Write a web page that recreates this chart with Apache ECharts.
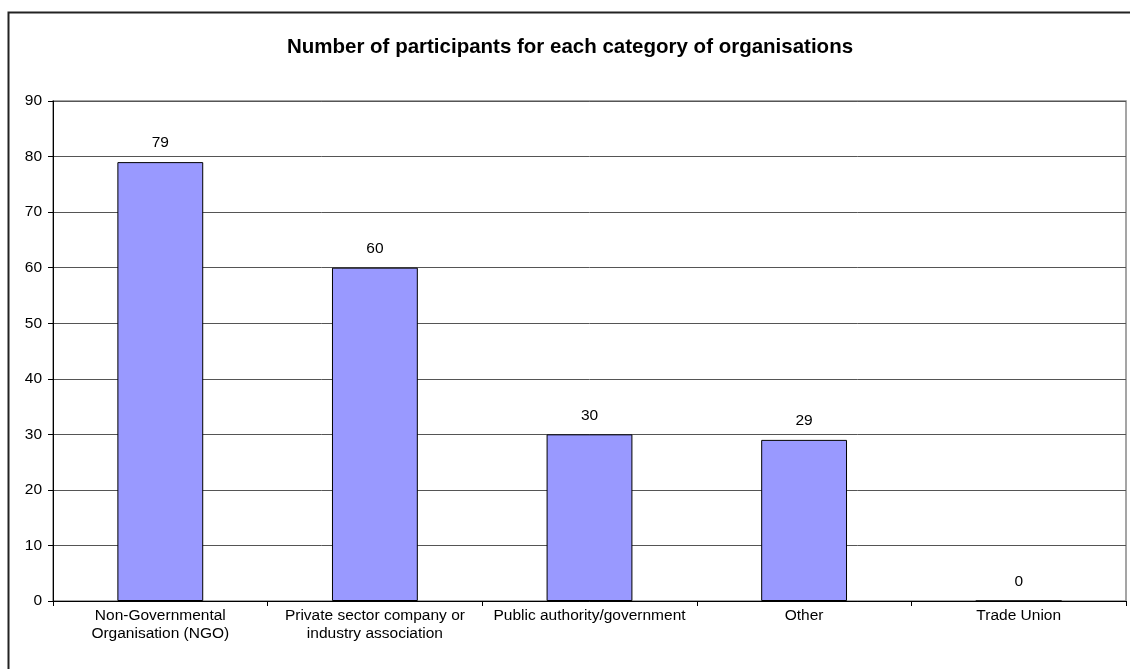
<!DOCTYPE html>
<html><head><meta charset="utf-8">
<script src="https://cdn.jsdelivr.net/npm/echarts@6/dist/echarts.min.js"></script>
<style>html,body{margin:0;padding:0;background:#fff}#c{width:1130px;height:669px}</style>
</head><body><div id="c"></div>
<script>
const titleText = 'Number of participants for each category of organisations';
const categories = ['Non-Governmental\nOrganisation (NGO)', 'Private sector company or\nindustry association', 'Public authority/government', 'Other', 'Trade Union'];
const participants = [79, 60, 30, 29, 0];
const yTicks = { min: 0, max: 90, interval: 10 };

const chart = echarts.init(document.getElementById('c'), null, { renderer: 'canvas' });
const font = 'Arial, "Liberation Sans", sans-serif';
chart.setOption({
  animation: false,
  backgroundColor: '#fff',
  title: {
    text: titleText, left: 565, top: 32, textAlign: 'center',
    textStyle: { fontFamily: font, fontSize: 20.5, fontWeight: 'bold', color: '#000' }
  },
  graphic: [{
    type: 'rect', shape: { x: 8.5, y: 12.5, width: 1200, height: 700 },
    style: { fill: null, stroke: '#222', lineWidth: 2 }, silent: true, z: 100
  }],
  grid: { left: 53, right: 4, top: 101, bottom: 68, show: true, borderColor: '#888', borderWidth: 1.5, backgroundColor: 'transparent' },
  xAxis: {
    type: 'category', data: categories,
    axisLine: { lineStyle: { color: '#000', width: 1 } },
    axisTick: { show: true, length: 5, lineStyle: { color: '#000' } },
    axisLabel: { interval: 0, margin: 5, fontFamily: font, fontSize: 15.5, lineHeight: 18.5, color: '#000' }
  },
  yAxis: {
    type: 'value', min: yTicks.min, max: yTicks.max, interval: yTicks.interval,
    axisLine: { show: true, lineStyle: { color: '#000', width: 1 } },
    axisTick: { show: true, length: 5, lineStyle: { color: '#000' } },
    splitLine: { lineStyle: { color: '#555', width: 1 } },
    axisLabel: { margin: 11, fontFamily: font, fontSize: 15.5, color: '#000' }
  },
  series: [{
    type: 'bar', data: participants, barWidth: '40%',
    itemStyle: { color: '#9999FF', borderColor: '#000', borderWidth: 1 },
    label: { show: true, position: 'top', distance: 11, fontFamily: font, fontSize: 15.5, color: '#000' }
  }]
});
</script></body></html>
